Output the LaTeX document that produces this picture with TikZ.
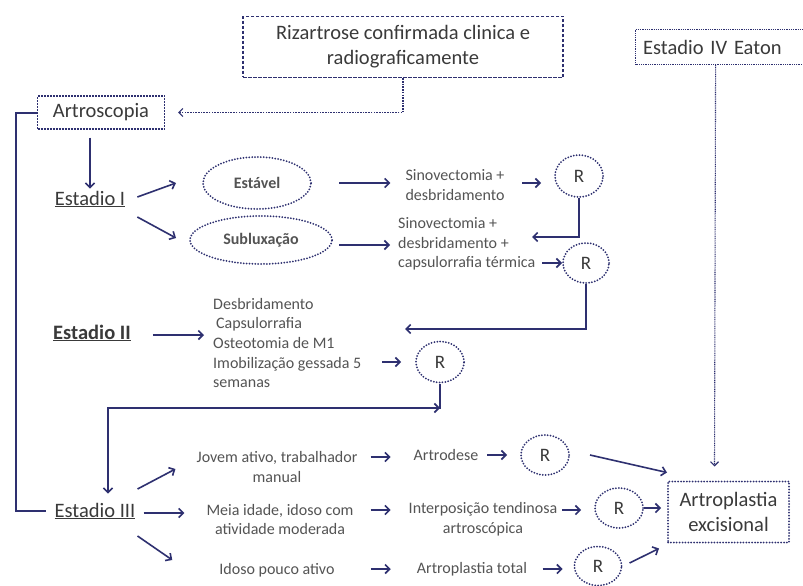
\documentclass[tikz,border=0pt]{standalone}
\usepackage{fontspec}
\setmainfont{Carlito}
\usetikzlibrary{shapes.geometric,arrows.meta}
\definecolor{navy}{RGB}{46,48,112}
\definecolor{dtxt}{RGB}{58,58,58}
\definecolor{gtxt}{RGB}{84,84,84}
\tikzset{
  big/.style={font=\fontsize{20.5}{25}\selectfont, text=dtxt, inner sep=2pt},
  small/.style={font=\fontsize{16}{19.7}\selectfont, text=gtxt, inner sep=2pt},
  dotshape/.style={draw=navy, line width=2pt, line cap=round, dash pattern=on 0pt off 2.9pt},
  ellnode/.style={ellipse, dotshape, inner sep=0pt},
  rnode/.style={ellipse, dotshape, inner sep=0pt, font=\fontsize{19}{22}\selectfont, text=dtxt},
  arr/.style={draw=navy, line width=1.6pt, -{Straight Barb[length=4.5pt,width=9pt]}},
  plain/.style={draw=navy, line width=2pt},
  thinarr/.style={draw=navy, line width=1.1pt, dash pattern=on 1.6pt off 1.1pt, -{Straight Barb[length=4pt,width=8pt]}},
}
\begin{document}
\begin{tikzpicture}[x=1pt,y=-1pt]
\fill[white] (0,0) rectangle (803,586);
\useasboundingbox (0,0) rectangle (803,586);

% boxes
\node[big, align=center, draw=navy, line width=1.6pt, dash pattern=on 3.5pt off 1.5pt,
      minimum width=320pt, minimum height=61pt] (riz) at (403,47) {Rizartrose confirmada clinica e\\radiograficamente};
\node[big, draw=navy, line width=1.2pt, dash pattern=on 2pt off 1pt,
      minimum width=127pt, minimum height=33pt] (artro) at (101,112.5) {Artroscopia};
\node[big, draw=navy, line width=1.2pt, dash pattern=on 1pt off 0.8pt, anchor=west,
      minimum width=175pt, minimum height=35pt, text width=160pt, align=left] (eiv) at (635,47) {Estadio IV Eaton};
\node[big, align=center, dotshape, minimum width=121pt, minimum height=61pt] (apl) at (728.5,512) {Artroplastia\\excisional};

% stages
\node[big] (e1) at (90,199) {\underline{Estadio I}};
\node[big] (e2) at (92,333) {\underline{\bfseries Estadio II}};
\node[big] (e3) at (95,511) {\underline{Estadio III}};

% stage I branch
\node[ellnode, minimum width=108pt, minimum height=52pt, font=\fontsize{16}{19}\selectfont\bfseries, text=gtxt] (estavel) at (257,183) {Estável};
\node[ellnode, minimum width=142pt, minimum height=48pt, font=\fontsize{16}{19}\selectfont\bfseries, text=gtxt] (sublux) at (261,240) {Subluxação};
\node[small, align=center] (sin1) at (455,185) {Sinovectomia +\\desbridamento};
\node[small, align=left, anchor=west] (sin2) at (396,244) {Sinovectomia +\\desbridamento +\\capsulorrafia térmica};
\node[rnode, minimum width=48pt, minimum height=42pt] (r1) at (579,176) {R};
\node[rnode, minimum width=46pt, minimum height=40pt] (r2) at (586,263) {R};

% stage II branch
\node[small, align=left, anchor=west] (des) at (211,343) {Desbridamento\\\hspace{3pt}Capsulorrafia\\Osteotomia de M1\\Imobilização gessada 5\\semanas};
\node[rnode, minimum width=48pt, minimum height=41pt] (r3) at (440,362) {R};

% stage III branch
\node[small, align=center] (jov) at (277,467) {Jovem ativo, trabalhador\\manual};
\node[small, align=center] (mei) at (280,519.5) {Meia idade, idoso com\\atividade moderada};
\node[small] (ido) at (277,570) {Idoso pouco ativo};
\node[small] (art) at (446,455) {Artrodese};
\node[small, align=center] (int) at (483,519.5) {Interposição tendinosa\\artroscópica};
\node[small] (atot) at (472,569) {Artroplastia total};
\node[rnode, minimum width=48pt, minimum height=40pt] (r4) at (545,455) {R};
\node[rnode, minimum width=48pt, minimum height=40pt] (r5) at (619,508) {R};
\node[rnode, minimum width=47pt, minimum height=39pt] (r6) at (598,566) {R};

\coordinate (t1) at (532,237);
\coordinate (t2) at (405,329);
\coordinate (j3) at (440,408);

% connectors
\draw[thinarr] (riz.south) |- ([xshift=13pt]artro.east);
\draw[thinarr, dash pattern=on 1pt off 0.8pt] ([xshift=-7.5pt]eiv.south) -- ([xshift=-14pt,yshift=14pt]apl.north);
\draw[plain] (artro.west) -- ++(-20.5,0) |- ([xshift=-6pt]e3.west);
\draw[arr, shorten <=8pt] (artro.south -| e1.north) -- (e1.north);

\draw[arr] ([xshift=10pt,yshift=2pt]e1.east) -- ([xshift=-26pt]estavel.west);
\draw[arr] ([xshift=10pt,yshift=-18pt]e1.east) -- ([xshift=-13pt,yshift=2pt]sublux.west);
\draw[arr, shorten <=27pt, shorten >=13pt] (estavel.east) -- (estavel.east -| sin1.west);
\draw[arr, shorten <=6pt, shorten >=6pt] ([yshift=-5pt]sublux.east) -- ([yshift=-5pt]sublux.east -| sin2.west);
\draw[arr] ([xshift=-32pt,yshift=-7pt]r1.west) -- ([xshift=-13pt,yshift=-7pt]r1.west);
\draw[arr] (r1.south) |- (t1);
\draw[arr] ([xshift=-20pt]r2.west) -- (r2.west);
\draw[arr] (r2.south) |- (t2);

\draw[arr] ([xshift=20pt,yshift=-2pt]e2.east) -- ([xshift=71pt,yshift=-2pt]e2.east);
\draw[arr] ([xshift=-33pt]r3.west) -- ([xshift=-14pt]r3.west);
\draw[arr, shorten >=7pt] (r3.south) -- (j3) -| ([xshift=13pt]e3.north);
\draw[arr] ([xshift=-10pt]j3) -- (j3);

\draw[arr] ([yshift=22pt]e3.east) -- ([xshift=-19pt,yshift=-2pt]jov.west);
\draw[arr, shorten <=6pt, shorten >=20pt] ([yshift=-2pt]e3.east) -- ([yshift=-2pt]e3.east -| mei.west);
\draw[arr] ([yshift=-25pt]e3.east) -- ([xshift=-45pt,yshift=10pt]ido.west);

\draw[arr] ([xshift=-41pt,yshift=-2pt]art.west) -- ([xshift=-21pt,yshift=-2pt]art.west);
\draw[arr] ([xshift=-36pt,yshift=9.5pt]int.west) -- ([xshift=-16pt,yshift=9.5pt]int.west);
\draw[arr] ([xshift=-44pt]atot.west) -- ([xshift=-24pt]atot.west);

\draw[arr] ([xshift=-33pt]r4.west) -- ([xshift=-13pt]r4.west);
\draw[arr] ([xshift=-32pt,yshift=-2pt]r5.west) -- ([xshift=-13pt,yshift=-2pt]r5.west);
\draw[arr] ([xshift=-31pt,yshift=-3pt]r6.west) -- ([xshift=-11pt,yshift=-3pt]r6.west);

\draw[arr] ([xshift=20pt]r4.east) -- ([yshift=8pt]apl.north west);
\draw[arr, shorten >=6pt] (r5.east) -- (r5.east -| apl.west);
\draw[arr] ([xshift=7pt,yshift=3pt]r6.east) -- ([xshift=-8pt,yshift=-5pt]apl.south west);
\end{tikzpicture}
\end{document}
